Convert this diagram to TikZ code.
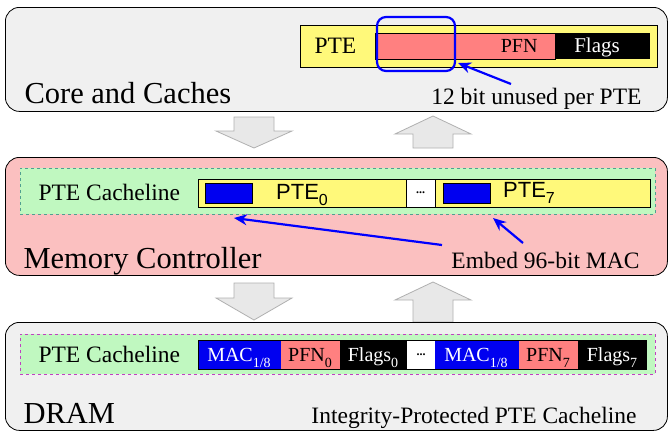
\documentclass[tikz,border=0pt]{standalone}
\usepackage{fontspec}
\setmainfont{Liberation Serif}
\newfontfamily\sansf{Liberation Sans}
\usetikzlibrary{arrows.meta,calc}
\definecolor{laygray}{HTML}{F0F0F0}
\definecolor{laypink}{HTML}{FBC0C0}
\definecolor{linegreen}{HTML}{C0F8C0}
\definecolor{pteyel}{HTML}{FFF97A}
\definecolor{salmon}{HTML}{FF8080}
\definecolor{macblue}{HTML}{0000F0}
\definecolor{arrgray}{HTML}{E8E8E8}
\definecolor{arredge}{HTML}{B0B0B0}
\definecolor{dashteal}{HTML}{50A090}
\definecolor{dashmag}{HTML}{C040C0}
\newcommand\lowsub[2]{\raisebox{-0.3em}{\fontsize{#1}{#1}\selectfont #2}}
\begin{document}
\begin{tikzpicture}[x=1pt,y=-1pt,
  layer/.style={draw=black, line width=0.8pt, rounded corners=14pt, anchor=north west, inner sep=0pt},
  cell/.style={anchor=north west, inner sep=0pt, outer sep=0pt},
  big/.style={font=\fontsize{30.5}{30.5}\selectfont},
  mid/.style={font=\fontsize{23.5}{23.5}\selectfont},
  small/.style={font=\fontsize{20}{20}\selectfont},
  blockarrow/.style={fill=arrgray, draw=arredge, line width=0.8pt},
  bluearrow/.style={draw=blue, line width=2.2pt, -{Stealth[length=13pt,width=11pt]}},
]
\useasboundingbox (0,0) rectangle (669,434);
\fill[white] (0,0) rectangle (669,434);

% ---------- Core and Caches ----------
\node[layer, fill=laygray, minimum width=662, minimum height=104] (core) at (5,7) {};
\node[big, anchor=base west] (coretxt) at (21,103) {Core and Caches};
\node[mid, anchor=base east] (unusedtxt) at (645,104) {12 bit unused per PTE};
\node[cell, draw=black, line width=0.6pt, fill=pteyel, minimum width=357, minimum height=42] (pte) at (300,25) {};
\node[mid, anchor=base west] (ptetxt) at (311,53) {PTE};
\node[cell, draw=black, line width=0.8pt, fill=salmon, minimum width=180, minimum height=26] (pfn) at (375,33) {};
\node[cell, fill=black, minimum width=95, minimum height=26] (flags) at (555,33) {};
\node[small, anchor=base east] (pfntxt) at (541,52) {PFN};
\node[font=\fontsize{21}{21}\selectfont, anchor=base, text=white] (flagstxt) at (597,52) {Flags};
\node[cell, draw=blue, line width=2.2pt, rounded corners=9pt, minimum width=78, minimum height=54] (unused) at (377,17) {};
\coordinate (u1) at (511,84);
\coordinate (u2) at (458,63);
\draw[bluearrow] (u1) -- (u2);

% ---------- block arrows row 1 ----------
\draw[blockarrow] (234,117) -- (274,117) -- (274,131) -- (292,131) -- (254,148) -- (216,131) -- (234,131) -- cycle;
\draw[blockarrow] (413,148) -- (453,148) -- (453,134) -- (471,134) -- (433,116) -- (395,134) -- (413,134) -- cycle;

% ---------- Memory Controller ----------
\node[layer, fill=laypink, minimum width=662, minimum height=118] (mc) at (5,157) {};
\node[cell, fill=linegreen, draw=dashteal, dashed, line width=0.6pt, minimum width=635, minimum height=46] (mcline) at (20,168) {};
\node[mid, anchor=base west] (mcltxt) at (35,200) {PTE Cacheline};
\node[cell, draw=black, line width=0.6pt, fill=pteyel, minimum width=208, minimum height=28] (pte0) at (198,179) {};
\node[cell, draw=black, line width=0.6pt, fill=white, minimum width=29, minimum height=28] (dots1) at (406,179) {};
\node[cell, draw=black, line width=0.6pt, fill=pteyel, minimum width=215, minimum height=28] (pte7) at (435,179) {};
\node[cell, draw=black, line width=0.6pt, fill=macblue, minimum width=47, minimum height=20] (mac0) at (205,183) {};
\node[cell, draw=black, line width=0.6pt, fill=macblue, minimum width=47, minimum height=20] (mac7) at (443,183) {};
\node[anchor=base, font=\sansf\fontsize{22}{22}\selectfont] (pte0txt) at (302,199) {PTE\lowsub{16}{0}};
\node[anchor=base, font=\sansf\fontsize{22}{22}\selectfont] (pte7txt) at (529,197) {PTE\lowsub{16}{7}};
\node[font=\bfseries\fontsize{12}{12}\selectfont] at (dots1.center) {...};
\node[big, anchor=base west] (mctxt) at (20,268) {Memory Controller};
\node[mid, anchor=base east] (embedtxt) at (643,268) {Embed 96-bit MAC};
\coordinate (e1) at (442,245);
\coordinate (e2) at (234,218);
\coordinate (e3) at (523,243);
\coordinate (e4) at (493,218);
\draw[bluearrow] (e1) -- (e2);
\draw[bluearrow] (e3) -- (e4);

% ---------- block arrows row 2 ----------
\draw[blockarrow] (234,283) -- (274,283) -- (274,298) -- (292,298) -- (254,320) -- (216,298) -- (234,298) -- cycle;
\draw[blockarrow] (413,322) -- (453,322) -- (453,300) -- (471,300) -- (433,282) -- (395,300) -- (413,300) -- cycle;

% ---------- DRAM ----------
\node[layer, fill=laygray, minimum width=662, minimum height=108] (dram) at (5,322) {};
\node[cell, fill=linegreen, draw=dashmag, dashed, line width=0.6pt, minimum width=635, minimum height=40] (drline) at (20,334) {};
\node[mid, anchor=base west] (drltxt) at (35,362) {PTE Cacheline};
\node[cell, fill=black, minimum width=449, minimum height=30] (bar) at (198,340) {};
\node[cell, fill=macblue, minimum width=83, minimum height=28] (m0) at (199,341) {};
\node[cell, fill=salmon, minimum width=59, minimum height=28] (p0) at (281,341) {};
\node[cell, fill=white, minimum width=28, minimum height=28] (d2) at (407,341) {};
\node[cell, fill=macblue, minimum width=84, minimum height=28] (m7) at (435,341) {};
\node[cell, fill=salmon, minimum width=59, minimum height=28] (p7) at (519,341) {};
\node[small, anchor=base, text=white] at (239,361) {MAC\lowsub{14}{1/8}};
\node[small, anchor=base] at (310,361) {PFN\lowsub{14}{0}};
\node[small, anchor=base, text=white] at (373,361) {Flags\lowsub{14}{0}};
\node[font=\bfseries\fontsize{12}{12}\selectfont] at (d2.center) {...};
\node[small, anchor=base, text=white] at (476,361) {MAC\lowsub{14}{1/8}};
\node[small, anchor=base] at (548,361) {PFN\lowsub{14}{7}};
\node[small, anchor=base, text=white] at (612,361) {Flags\lowsub{14}{7}};
\node[big, anchor=base west] (dramtxt) at (20,423) {DRAM};
\node[mid, anchor=base east] (iptxt) at (640,423) {Integrity-Protected PTE Cacheline};
\end{tikzpicture}
\end{document}
